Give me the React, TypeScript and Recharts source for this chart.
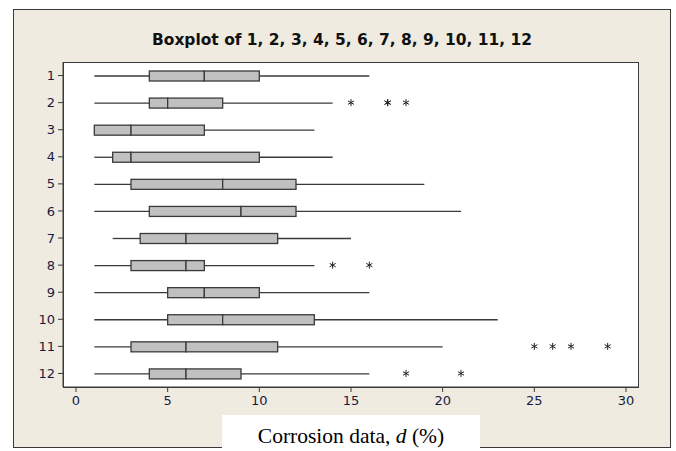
import React from 'react';
import { ComposedChart, Bar, Scatter, XAxis, YAxis } from 'recharts';

const categories = ['1', '2', '3', '4', '5', '6', '7', '8', '9', '10', '11', '12'];
const mins = [1, 1, 1, 1, 1, 1, 2, 1, 1, 1, 1, 1];
const q1s = [4, 4, 1, 2, 3, 4, 3.5, 3, 5, 5, 3, 4];
const medians = [7, 5, 3, 3, 8, 9, 6, 6, 7, 8, 6, 6];
const q3s = [10, 8, 7, 10, 12, 12, 11, 7, 10, 13, 11, 9];
const maxs = [16, 14, 13, 14, 19, 21, 15, 13, 16, 23, 20, 16];
const outliers: number[][] = [[], [15, 17, 17, 18], [], [], [], [], [], [14, 16], [], [], [25, 26, 27, 29], [18, 21]];
const xTicks = [0, 5, 10, 15, 20, 25, 30];

const data = categories.map((c, i) => {
  const row: any = {
    cat: c,
    base: mins[i],
    lw: q1s[i] - mins[i],
    b1: medians[i] - q1s[i],
    b2: q3s[i] - medians[i],
    uw: maxs[i] - q3s[i],
  };
  for (let k = 0; k < 4; k++) row['o' + (k + 1)] = outliers[i][k] ?? null;
  return row;
});

const Whisker = (p: any) => {
  const { x, y, width, height } = p;
  if (!width || width <= 0 || isNaN(x)) return <g />;
  const cy = y + height / 2;
  return <line x1={x} x2={x + width} y1={cy} y2={cy} stroke="#3a3a3a" strokeWidth={1.3} />;
};

const BoxSeg = (p: any) => {
  const { x, y, width, height } = p;
  if (!width || width <= 0 || isNaN(x)) return <g />;
  return <rect x={x} y={y} width={width} height={height} fill="#C0C0C0" stroke="#3a3a3a" strokeWidth={1.3} />;
};

const Star = (p: any) => {
  const { cx, cy } = p;
  if (cx == null || cy == null || isNaN(cx) || isNaN(cy)) return <g />;
  const r = 3.5;
  const d = r * 0.87;
  return (
    <g stroke="#222" strokeWidth={1}>
      <line x1={cx} x2={cx} y1={cy - r} y2={cy + r} />
      <line x1={cx - d} x2={cx + d} y1={cy - r / 2} y2={cy + r / 2} />
      <line x1={cx - d} x2={cx + d} y1={cy + r / 2} y2={cy - r / 2} />
    </g>
  );
};

export default function App() {
  return (
    <div style={{ position: 'absolute', left: 0, top: 0, width: 676, height: 451, background: '#fff', overflow: 'hidden' }}>
      <div style={{ position: 'absolute', left: 13, top: 9, width: 656, height: 437, background: '#EFEBE1', border: '1px solid #3a3a3a' }} />
      <div style={{ position: 'absolute', left: 63, top: 62, width: 574, height: 324, background: '#fff', border: '1px solid #3a3a3a' }} />
      <svg style={{ position: 'absolute', left: 0, top: 0 }} width={676} height={451}>
        <text x={342} y={45} textAnchor="middle" textLength={380} lengthAdjust="spacingAndGlyphs"
          fontFamily="DejaVu Sans" fontWeight="bold" fontSize={16} fill="#111">
          Boxplot of 1, 2, 3, 4, 5, 6, 7, 8, 9, 10, 11, 12
        </text>
      </svg>
      <div style={{ position: 'absolute', left: 0, top: 0 }}>
        <ComposedChart width={676} height={451} data={data} layout="vertical"
          margin={{ top: 62, right: 38, bottom: 34, left: 0 }}>
          <XAxis type="number" domain={[0, 30]} ticks={xTicks} allowDataOverflow
            padding={{ left: 13, right: 12 }} height={30} tickSize={5} tickMargin={4}
            stroke="#3a3a3a" tick={{ fill: '#1a1a40', fontSize: 13, fontFamily: 'DejaVu Sans' }} />
          <YAxis type="category" dataKey="cat" width={63} interval={0} tickSize={5} tickMargin={3}
            stroke="#3a3a3a" allowDuplicatedCategory={false}
            tick={{ fill: '#1a1a40', fontSize: 13, fontFamily: 'DejaVu Sans' }} />
          <Bar dataKey="base" stackId="s" barSize={10} fill="none" isAnimationActive={false} shape={() => <g />} />
          <Bar dataKey="lw" stackId="s" barSize={10} isAnimationActive={false} shape={Whisker} />
          <Bar dataKey="b1" stackId="s" barSize={10} isAnimationActive={false} shape={BoxSeg} />
          <Bar dataKey="b2" stackId="s" barSize={10} isAnimationActive={false} shape={BoxSeg} />
          <Bar dataKey="uw" stackId="s" barSize={10} isAnimationActive={false} shape={Whisker} />
          <Scatter dataKey="o1" isAnimationActive={false} shape={Star} />
          <Scatter dataKey="o2" isAnimationActive={false} shape={Star} />
          <Scatter dataKey="o3" isAnimationActive={false} shape={Star} />
          <Scatter dataKey="o4" isAnimationActive={false} shape={Star} />
        </ComposedChart>
      </div>
      <div style={{ position: 'absolute', left: 222, top: 415, width: 258, height: 36, background: '#fff' }} />
      <div style={{ position: 'absolute', left: 222, top: 424, width: 258, textAlign: 'center', fontFamily: 'Liberation Serif', fontSize: 21.5, color: '#000', lineHeight: '24px' }}>
        Corrosion data, <i>d</i> (%)
      </div>
    </div>
  );
}
